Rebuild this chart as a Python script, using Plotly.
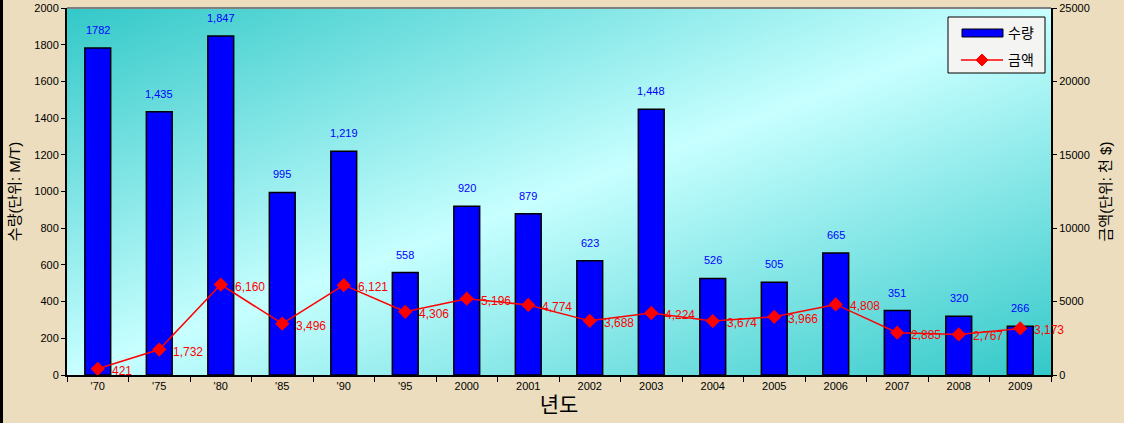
import numpy as np
import plotly.graph_objects as go

years = ["'70", "'75", "'80", "'85", "'90", "'95", "2000", "2001", "2002",
         "2003", "2004", "2005", "2006", "2007", "2008", "2009"]
quantity = [1782, 1435, 1847, 995, 1219, 558, 920, 879, 623, 1448, 526, 505, 665, 351, 320, 266]
quantity_text = ["1782", "1,435", "1,847", "995", "1,219", "558", "920", "879", "623",
                 "1,448", "526", "505", "665", "351", "320", "266"]
amount = [421, 1732, 6160, 3496, 6121, 4306, 5196, 4774, 3688, 4224, 3674, 3966, 4808, 2885, 2767, 3173]
amount_text = ["421", "1,732", "6,160", "3,496", "6,121", "4,306", "5,196", "4,774", "3,688",
               "4,224", "3,674", "3,966", "4,808", "2,885", "2,767", "3,173"]

FONT = "Liberation Sans, Arial, Noto Sans CJK KR, sans-serif"

L, R, T, B = 67, 73, 8, 48
W, H = 1124, 423
PW, PH = W - L - R, H - T - B


def px(xp):
    return (xp - L) / PW


def py(yp):
    return (H - B - yp) / PH


# background gradient (styling only)
n = 60
u = np.linspace(0, 1, n)
v = np.linspace(0, 1, n)
U, V = np.meshgrid(u, v)
Z = np.abs(U - V)

fig = go.Figure()
fig.add_trace(go.Heatmap(
    x=u, y=v, z=Z, zsmooth="best", showscale=False, hoverinfo="skip",
    colorscale=[[0, "#C8FFFF"], [1, "#33C8C8"]], xaxis="x", yaxis="y", showlegend=False,
))
fig.add_trace(go.Bar(
    x=years, y=quantity, name="수량", xaxis="x2", yaxis="y2",
    marker=dict(color="#0000FF", line=dict(color="#000000", width=1.5)),
    showlegend=False,
))
fig.add_trace(go.Scatter(
    x=years, y=amount, name="금액", xaxis="x2", yaxis="y3",
    mode="lines+markers",
    line=dict(color="#FF0000", width=1.5),
    marker=dict(symbol="diamond", size=11, color="#FF0000"),
    cliponaxis=False, showlegend=False,
))

annotations = []
for i, (q, t) in enumerate(zip(quantity, quantity_text)):
    annotations.append(dict(x=i, y=q, xref="x2", yref="y2", text=t, showarrow=False,
                            xanchor="center", yanchor="bottom", yshift=10,
                            font=dict(color="#0000FF", size=11, family=FONT)))
for i, (a, t) in enumerate(zip(amount, amount_text)):
    annotations.append(dict(x=i, y=a, xref="x2", yref="y3", text=t, showarrow=False,
                            xanchor="left", yanchor="middle", xshift=12, yshift=-2,
                            font=dict(color="#FF0000", size=12, family=FONT)))

# custom legend
annotations.append(dict(x=px(1006), y=py(33), xref="paper", yref="paper", text="수량",
                        showarrow=False, xanchor="left", yanchor="middle",
                        font=dict(size=14, family=FONT, color="#000000")))
annotations.append(dict(x=px(1006), y=py(60), xref="paper", yref="paper", text="금액",
                        showarrow=False, xanchor="left", yanchor="middle",
                        font=dict(size=14, family=FONT, color="#000000")))

shapes = [
    dict(type="line", xref="paper", yref="paper", x0=0, x1=1, y0=1, y1=1,
         line=dict(color="#808080", width=2)),
    dict(type="line", xref="paper", yref="paper", x0=px(1.5), x1=px(1.5), y0=py(H), y1=py(0),
         line=dict(color="#000000", width=3)),
    dict(type="rect", xref="paper", yref="paper", x0=px(948), x1=px(1045), y0=py(73), y1=py(17),
         fillcolor="#F4F4F2", line=dict(color="#000000", width=1)),
    dict(type="rect", xref="paper", yref="paper", x0=px(962), x1=px(1003), y0=py(37), y1=py(29),
         fillcolor="#0000FF", line=dict(color="#000000", width=1)),
    dict(type="line", xref="paper", yref="paper", x0=px(961), x1=px(1003), y0=py(60), y1=py(60),
         line=dict(color="#FF0000", width=1.5)),
    dict(type="path", xref="paper", yref="paper",
         path=f"M {px(982)} {py(54)} L {px(988)} {py(60)} L {px(982)} {py(66)} L {px(976)} {py(60)} Z",
         fillcolor="#FF0000", line=dict(color="#FF0000", width=1)),
]

fig.update_layout(
    width=W, height=H,
    margin=dict(l=L, r=R, t=T, b=B, autoexpand=False),
    paper_bgcolor="#EBDDBE",
    plot_bgcolor="#C8FFFF",
    font=dict(family=FONT, size=11, color="#000000"),
    bargap=0.58,
    showlegend=False,
    annotations=annotations,
    shapes=shapes,
    xaxis=dict(range=[0, 1], visible=False, fixedrange=True),
    yaxis=dict(range=[0, 1], visible=False, fixedrange=True),
    xaxis2=dict(overlaying="x", type="category", range=[-0.5, 15.5], showline=True,
                linecolor="#000000", linewidth=2, automargin=False,
                ticks="outside", ticklen=5, tickcolor="#000000", tickson="boundaries",
                tickfont=dict(size=11), showgrid=False,
                title=dict(text="년도", font=dict(size=21), standoff=6)),
    yaxis2=dict(overlaying="y", side="left", range=[0, 2000], dtick=200, showline=True,
                linecolor="#000000", linewidth=2, ticks="outside", ticklen=4, automargin=False,
                tickcolor="#000000", showgrid=False, zeroline=False, tickformat="d",
                title=dict(text="수량(단위: M/T)", font=dict(size=15), standoff=10)),
    yaxis3=dict(overlaying="y", side="right", range=[0, 25000], dtick=5000, showline=True,
                linecolor="#000000", linewidth=2, ticks="outside", ticklen=4, automargin=False,
                tickcolor="#000000", showgrid=False, zeroline=False, tickformat="d",
                title=dict(text="금액(단위: 천 $)", font=dict(size=15), standoff=12)),
)
fig.write_html("out.html", config={"displayModeBar": False},
               post_script="document.body.style.margin='0';")
